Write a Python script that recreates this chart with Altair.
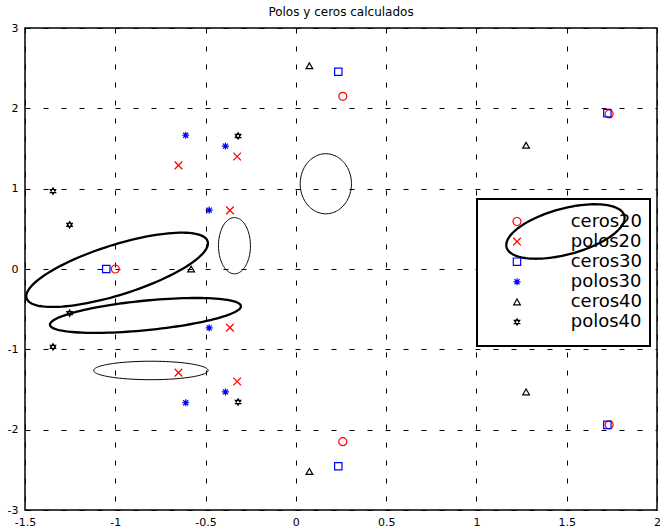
import altair as alt
import numpy as np
import pandas as pd

# ---------------- data ----------------
title_text = "Polos y ceros calculados"
series_names = ["ceros20", "polos20", "ceros30", "polos30", "ceros40", "polos40"]

ceros20_x = [0.26, 0.26, 1.735, 1.735, -1.0]
ceros20_y = [2.15, -2.15, 1.93, -1.94, 0.0]

polos20_x = [-0.65, -0.65, -0.325, -0.325, -0.365, -0.365]
polos20_y = [1.29, -1.29, 1.40, -1.40, 0.73, -0.73]

ceros30_x = [0.235, 0.235, 1.725, 1.725, -1.05]
ceros30_y = [2.455, -2.455, 1.94, -1.94, 0.0]

polos30_x = [-0.61, -0.61, -0.39, -0.39, -0.48, -0.48]
polos30_y = [1.665, -1.665, 1.53, -1.53, 0.733, -0.733]

ceros40_x = [0.075, 0.075, 1.275, 1.275, -0.58]
ceros40_y = [2.53, -2.52, 1.54, -1.53, 0.0]

polos40_x = [-1.345, -1.345, -1.253, -1.253, -0.32, -0.32]
polos40_y = [0.97, -0.97, 0.55, -0.55, 1.656, -1.656]

x_ticks = [-1.5, -1, -0.5, 0, 0.5, 1, 1.5, 2]
y_ticks = [-3, -2, -1, 0, 1, 2, 3]

# hand-drawn ellipses: centre, first and second semi-axis vectors (data units)
ell_cx = [-0.99, -0.833, -0.803, -0.34, 0.166, 1.493]
ell_cy = [-0.01, -0.578, -1.263, 0.29, 1.061, 0.467]
ell_ax = [0.5014, 0.5287, 0.317, 0.0885, 0.142, 0.3259]
ell_ay = [0.3549, 0.1172, 0.0, 0.0, 0.0, 0.1974]
ell_bx = [-0.0416, -0.00805, 0.0, 0.0, 0.0, -0.03316]
ell_by = [0.2962, 0.183, 0.115, 0.35, 0.374, 0.2759]
ell_thick = [True, True, False, False, False, True]

# ---------------- tables ----------------
rows = []
for name, xs_, ys_ in zip(
    series_names,
    [ceros20_x, polos20_x, ceros30_x, polos30_x, ceros40_x, polos40_x],
    [ceros20_y, polos20_y, ceros30_y, polos30_y, ceros40_y, polos40_y],
):
    for xv, yv in zip(xs_, ys_):
        rows.append({"serie": name, "x": xv, "y": yv})
points = pd.DataFrame(rows)

t = np.linspace(0, 2 * np.pi, 121)
erows = []
for k in range(len(ell_cx)):
    for i, tt in enumerate(t):
        erows.append({
            "id": k,
            "i": i,
            "thick": ell_thick[k],
            "x": ell_cx[k] + ell_ax[k] * np.cos(tt) + ell_bx[k] * np.sin(tt),
            "y": ell_cy[k] + ell_ay[k] * np.cos(tt) + ell_by[k] * np.sin(tt),
        })
ell = pd.DataFrame(erows)

# ---------------- chart ----------------
W, H = 632, 482
xscale = alt.Scale(domain=[-1.5, 2], nice=False, zero=False)
yscale = alt.Scale(domain=[-3, 3], nice=False, zero=False)
xaxis = alt.Axis(values=x_ticks, labelExpr="datum.value + ''", title=None,
                 ticks=False, domain=False, labelFlush=False, labelPadding=6,
                 labelOverlap=False)
yaxis = alt.Axis(values=y_ticks, labelExpr="datum.value + ''", title=None,
                 ticks=False, domain=False, labelFlush=False, labelPadding=7,
                 labelOverlap=False)
X = alt.X("x:Q", scale=xscale, axis=xaxis)
Y = alt.Y("y:Q", scale=yscale, axis=yaxis)

colors = ["#ff0000", "#ff0000", "#0000ff", "#0000ff", "#000000", "#000000"]
shapes = [
    "circle",
    "M-1,-1L1,1M1,-1L-1,1",
    "square",
    "M0,-1L0,1M-1,0L1,0M-0.72,-0.72L0.72,0.72M0.72,-0.72L-0.72,0.72",
    "triangle-up",
    "M0,-1L0.866,0.5L-0.866,0.5ZM0,1L0.866,-0.5L-0.866,-0.5Z",
]
sizes = [64, 40, 64, 90, 110, 30]

leg = alt.Legend(orient="none", legendX=483, legendY=184.5, title=None)

title = alt.Chart(pd.DataFrame({"t": [title_text]})).mark_text(
    font="DejaVu Sans", fontSize=12, color="black", align="center", baseline="alphabetic"
).encode(text="t:N", x=alt.value(W / 2), y=alt.value(-12))

legend_box = alt.Chart(pd.DataFrame({"a": [0]})).mark_rect(
    fill="white", stroke="black", strokeWidth=2
).encode(x=alt.value(452), x2=alt.value(625), y=alt.value(171), y2=alt.value(318))

thick = alt.Chart(ell[ell["thick"]]).mark_line(color="black", strokeWidth=2.3).encode(
    x=X, y=Y, detail="id:N", order=alt.Order("i:Q"))
thin = alt.Chart(ell[~ell["thick"]]).mark_line(color="black", strokeWidth=1).encode(
    x=X, y=Y, detail="id:N", order=alt.Order("i:Q"))

pts = alt.Chart(points).mark_point(filled=False, strokeWidth=1.2, opacity=1).encode(
    x=X, y=Y,
    color=alt.Color("serie:N", scale=alt.Scale(domain=series_names, range=colors), legend=leg),
    shape=alt.Shape("serie:N", scale=alt.Scale(domain=series_names, range=shapes), legend=leg),
    size=alt.Size("serie:N", scale=alt.Scale(domain=series_names, range=sizes), legend=leg),
)

chart = alt.layer(legend_box, thick, thin, pts, title).properties(
    width=W, height=H,
    autosize=alt.AutoSizeParams(type="none"),
    padding={"left": 25, "top": 28, "right": 3, "bottom": 22},
    background="white",
).configure_view(
    stroke="black", strokeWidth=1.5
).configure_axis(
    labelFont="DejaVu Sans", labelFontSize=11, labelColor="black",
    grid=True, gridColor="black", gridDash=[5, 13], gridWidth=1, gridOpacity=1,
).configure_legend(
    labelFont="DejaVu Sans", labelFontSize=18, labelColor="black",
    rowPadding=2.1, labelOffset=44.7, padding=0, symbolStrokeWidth=1.2,
    symbolFillColor="transparent",
)

chart.save("out.html", embed_options={"renderer": "svg", "actions": False})
